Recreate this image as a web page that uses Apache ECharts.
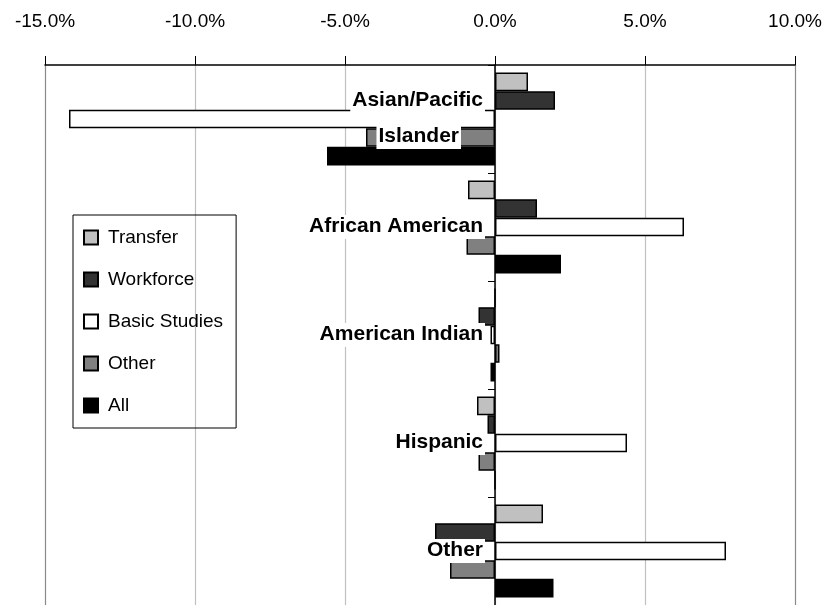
<!DOCTYPE html>
<html>
<head>
<meta charset="utf-8">
<script src="https://cdn.jsdelivr.net/npm/echarts@6/dist/echarts.min.js"></script>
<style>
  html, body { margin: 0; padding: 0; background: #fff; }
  #chart { width: 825px; height: 605px; }
</style>
</head>
<body>
<div id="chart"></div>
<script>
const categories = ['Asian/Pacific Islander', 'African American', 'American Indian', 'Hispanic', 'Other']
const transfer = [1.1, -0.9, 0, -0.6, 1.6]
const workforce = [2.0, 1.4, -0.55, -0.25, -2.0]
const basicStudies = [-14.2, 6.3, -0.15, 4.4, 7.7]
const otherPrograms = [-4.3, -0.95, 0.15, -0.55, -1.5]
const allPrograms = [-5.6, 2.2, -0.15, 0, 1.95]

const seriesNames = ['Transfer', 'Workforce', 'Basic Studies', 'Other', 'All']
const seriesColors = ['#c0c0c0', '#333333', '#ffffff', '#808080', '#000000']
const seriesData = [transfer, workforce, basicStudies, otherPrograms, allPrograms]

const FONT = 'Liberation Sans, Arial, sans-serif'
const GRID_LEFT = 45

const chart = echarts.init(document.getElementById('chart'))

const option = {
    backgroundColor: '#fff',
    animation: false,
    grid: {
        left: GRID_LEFT,
        right: 30,
        top: 65,
        bottom: 0,
        containLabel: false,
        outerBoundsMode: 'none'
    },
    legend: {
        orient: 'vertical',
        left: 73,
        top: 215,
        borderColor: '#000',
        borderWidth: 1,
        padding: [13, 13, 13, 10],
        itemWidth: 14,
        itemHeight: 14,
        itemGap: 23,
        icon: 'rect',
        textStyle: {
            fontFamily: FONT,
            fontSize: 19,
            color: '#000',
            padding: [0, 0, 0, 5]
        },
        data: seriesNames
    },
    xAxis: {
        type: 'value',
        position: 'top',
        min: -15,
        max: 10,
        interval: 5,
        axisLine: { show: true, lineStyle: { color: '#000', width: 1.5 } },
        axisTick: { show: true, length: 9, lineStyle: { color: '#000' } },
        axisLabel: {
            margin: 34,
            fontFamily: FONT,
            fontSize: 19,
            color: '#000',
            formatter: v => v.toFixed(1) + '%'
        },
        splitLine: {
            show: true,
            lineStyle: {
                color: ['#8a8a8a', '#c0c0c0', '#c0c0c0', '#c0c0c0', '#c0c0c0', '#8a8a8a'],
                width: 1.2
            }
        }
    },
    yAxis: {
        type: 'category',
        inverse: true,
        data: categories,
        z: 5,
        offset: 0,
        axisLine: { show: true, onZero: false, lineStyle: { color: '#000', width: 1.5 } },
        axisTick: { show: true, length: 7, lineStyle: { color: '#000' } },
        axisLabel: {
            margin: 10,
            fontFamily: FONT,
            fontSize: 21,
            fontWeight: 'bold',
            color: '#000',
            formatter: function (v) {
                if (v === 'Asian/Pacific Islander') {
                    return '{w|Asian/Pacific}\n{w|Islander}{s|}'
                }
                return '{w|' + v + '}'
            },
            rich: {
                w: {
                    fontFamily: FONT,
                    fontSize: 21,
                    fontWeight: 'bold',
                    color: '#000',
                    backgroundColor: '#fff',
                    padding: [1, 2, 2, 2],
                    lineHeight: 36
                },
                s: {
                    width: 24,
                    lineHeight: 36
                }
            }
        }
    },
    series: seriesNames.map((name, i) => ({
        name: name,
        type: 'bar',
        data: seriesData[i],
        barGap: 0,
        barCategoryGap: '14%',
        itemStyle: {
            color: seriesColors[i],
            borderColor: '#000',
            borderWidth: 1.5
        }
    }))
}

chart.setOption(option)

// move the category axis (line, ticks, labels) onto the 0% line
const zeroX = chart.convertToPixel({ xAxisIndex: 0 }, 0)
chart.setOption({ yAxis: { offset: -(zeroX - GRID_LEFT) } })
</script>
</body>
</html>
